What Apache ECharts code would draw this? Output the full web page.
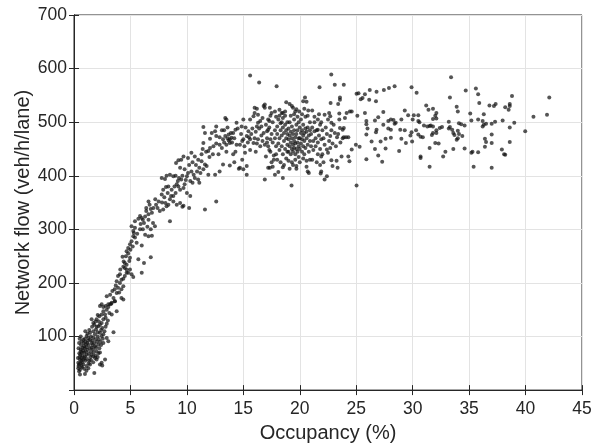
<!DOCTYPE html>
<html><head><meta charset="utf-8">
<script src="https://cdn.jsdelivr.net/npm/echarts@6/dist/echarts.min.js"></script>
<style>html,body{margin:0;padding:0;background:#fff}#c{width:604px;height:448px}</style>
</head><body><div id="c"></div>
<script>
// [occupancy %, network flow veh/h/lane]
const freeFlowPts = [[0.53,29],[0.97,30],[1.8,32],[0.38,41],[0.53,38],[0.68,45],[0.83,48],[1.12,45],[1.27,41],[1.42,48],[0.38,51],[0.53,57],[0.68,60],[0.83,57],[0.97,63],[1.12,66],[0.47,69],[0.59,76],[0.77,79],[0.89,82],[1.06,85],[1.18,88],[0.68,91],[0.83,94],[0.97,96],[1.27,97],[1.42,94],[1.56,88],[1.56,79],[1.71,76],[1.86,82],[2.0,73],[2.16,69],[1.71,63],[1.86,60],[2.0,57],[2.3,48],[2.45,51],[2.75,57],[2.5,46],[1.12,101],[1.42,107],[1.71,110],[1.95,113],[2.16,119],[2.3,122],[2.45,125],[2.6,132],[2.0,132],[2.24,138],[2.45,141],[1.71,125],[1.56,132],[2.3,107],[2.45,101],[2.6,104],[2.9,97],[3.04,91],[3.5,108],[2.6,147],[2.9,150],[3.04,155],[3.2,160],[3.34,163],[3.63,166],[2.75,141],[3.13,144],[3.34,141],[3.78,147],[2.3,157],[2.45,160],[2.1,140],
[0.4,45],[0.45,48],[0.5,62],[0.55,66],[0.6,72],[0.62,84],[0.7,70],[0.72,52],[0.75,64],[0.8,74],[0.85,88],[0.9,70],[0.92,60],[0.95,78],[1.0,55],[1.0,90],[1.05,72],[1.1,80],[1.15,58],[1.2,75],[1.25,92],[1.3,68],[1.3,84],[1.35,55],[1.4,78],[1.45,62],[1.5,100],[1.5,72],[1.55,66],[1.6,92],[1.65,84],[1.7,98],[1.75,70],[1.8,88],[1.85,104],[1.9,95],[1.95,80],[2.05,90],[2.1,100],[2.15,85],[2.2,95],[2.25,78],[2.35,90],[2.4,112],[2.5,116],[2.55,96],[0.35,60],[0.4,78],[0.45,88],[0.5,96],[0.6,100],[0.65,55],[1.0,110],[1.2,105],[1.35,112],[1.6,118],[1.8,122],[1.9,128],[2.0,118],[2.1,108],[2.2,128],[0.55,50],[0.7,42],[0.9,40],[1.1,36],[0.45,35],[1.3,50],[1.5,56],[1.7,52],[1.9,64],[2.1,62],[2.3,70],[2.4,84],[2.6,88],[2.7,110],[2.8,118],[2.9,124],[3.0,130],[2.8,135]];

const risingPts = [[2.6,155],[2.8,157],[3.04,160],[3.3,161],[3.6,166],[2.9,175],[3.2,178],[3.5,172],[3.78,181],[3.6,188],[3.9,191],[4.2,172],[4.37,169],[4.2,188],[4.37,194],[3.78,203],[4.07,200],[4.2,206],[4.37,208],[4.5,213],[4.66,219],[4.66,225],[4.5,228],[4.96,225],[4.8,219],[4.07,216],[3.9,213],[5.1,216],[5.25,211],[4.66,234],[4.9,241],[4.96,247],[4.37,230],[4.5,237],[4.3,249],[6.0,219],[5.7,244],[6.2,237],[6.8,248],[4.66,259],[4.8,265],[4.96,272],[5.1,278],[5.25,287],[5.3,293],[5.55,275],[6.0,270],[5.1,306],[5.4,303],[5.25,297],[5.85,300],[6.1,300],[6.3,290],[6.6,287],[6.9,288],[5.4,315],[5.7,320],[5.85,325],[6.1,318],[6.6,318],[7.0,312],[7.17,306],[8.5,315],
[3.4,185],[3.7,195],[4.0,182],[4.1,225],[4.4,240],[4.6,250],[4.8,255],[5.0,262],[5.2,268],[5.4,285],[5.6,292],[5.9,310],[6.2,312],[6.5,305],[6.8,300],[6.4,340],[6.8,338],[7.4,340],[7.8,350],[8.0,360],[8.3,368],[8.6,362],[8.9,380],[9.2,390],[9.6,400],[9.9,392]];

const transitionPts = [[6.0,321],[6.3,324],[6.6,328],[6.9,331],[6.4,334],[7.03,340],[7.27,346],[7.5,352],[7.2,356],[6.6,352],[6.7,346],[7.6,334],[7.9,337],[8.2,343],[8.1,349],[8.36,346],[8.5,356],[8.8,362],[9.0,368],[7.77,365],[7.9,374],[8.15,379],[8.36,380],[8.65,374],[7.77,396],[8.06,394],[8.2,400],[8.5,402],[8.8,399],[9.0,400],[9.1,384],[9.25,380],[9.4,374],[9.7,377],[9.8,384],[9.5,393],[9.3,396],[8.8,352],[9.1,346],[9.4,349],[9.6,342],[9.7,344],[10.2,340],[10.0,368],[10.3,362],[9.04,424],[9.25,429],[9.5,430],[9.7,436],[9.4,415],[9.8,412],[10.0,399],[10.1,405],[10.4,408],[10.6,402],[10.7,396],[10.9,408],[11.2,405],[11.0,393],[11.1,387],[10.3,390],[10.5,387],[10.1,433],[10.4,443],[10.7,436],[11.0,430],[11.3,440],[11.3,427],[11.6,421],[11.46,412],[11.75,418],[11.9,446],[12.05,452],[12.35,455],[11.46,461],[11.6,480],[12.05,469],[12.2,480],[12.5,483],[12.6,474],[12.9,472],[13.2,468],[13.4,474],[13.7,477],[13.8,468],[13.95,471],[13.7,466],[13.8,461],[13.5,458],[13.1,452],[12.8,440],[13.2,421],[12.9,408],[12.5,402],[11.9,402],[12.6,352],[11.6,337],[13.8,419],[14.1,440],[14.6,413],[14.7,415],[15.15,443],[15.3,418],[14.7,458],[15.0,468],[15.3,474],[15.6,468],[15.45,483],[14.4,499],[14.3,486],[14.1,480],[13.4,508],[13.5,505],[12.6,492],[11.46,491],[14.85,492],[15.0,505],[15.6,505],[15.9,511],[16.0,517],[16.0,527],[16.3,514],[16.2,492],[16.3,499],[16.5,502],[16.6,492],[16.8,480],[17.1,483],[17.2,486],[15.9,461],[16.3,468],[16.5,455],[16.9,458],[17.0,436],[17.2,415],[15.3,402],[16.8,530],[16.7,508],[17.3,502],[17.4,468],
[10.2,420],[10.5,425],[10.8,420],[11.1,415],[11.4,450],[11.7,445],[12.0,435],[12.3,440],[12.6,460],[12.9,458],[13.3,485],[13.6,490],
[13.1,485],[13.3,462],[13.6,470],[13.9,480],[14.0,462],[14.2,470],[14.4,458],[14.5,488],[14.8,478],[14.9,465],[15.1,455],[15.2,490],[15.4,462],[15.5,472],[15.7,478],[15.8,488],[16.0,470],[16.1,482],[16.2,460],[16.4,488],[16.6,475],[16.7,465],[14.3,445],[14.9,430],[15.6,448],[16.1,445],[15.0,412],[14.2,425],[13.5,445],[15.6,587],[16.2,525]];

const peakPts = [[22.79,589],[23.1,570],[23.9,570],[17.95,567],[21.75,565],[23.56,546],[23.56,542],[22.73,536],[23.4,534],[16.9,533],[16.9,527],[16.4,574],[18.8,537],[19.1,534],[19.3,530],[19.4,527],[19.7,524],[19.95,520],[20.46,546],[20.3,539],[20.6,538],[20.75,522],[21.1,522],[19.6,520],[17.8,520],[18.2,523],[18.4,517],[18.5,517],[18.7,520],[17.35,527],[17.5,517],[21.7,515],[22.2,514],[22.6,517],[22.7,511],[23.5,516],[24.15,517],[24.0,508],[24.6,520],[24.44,520],[19.27,382],[22.4,399],[22.2,393],[21.85,404],[20.8,405],[20.6,417],[18.5,396],[17.8,402],[18.1,407],[16.9,393],[17.35,415],[17.6,417],[18.5,416],[19.1,413],[19.7,413],[20.7,408],[21.9,408],[23.35,415],[24.4,427],[24.3,436],[23.26,428],[22.8,429],[23.7,436],[24.97,458],[24.3,472],[24.1,472],[23.9,472],[24.6,449],[22.7,452],[22.4,449],[22.5,443],[22.0,440],[21.9,436],[22.7,474],[23.3,472],[22.5,505],[22.8,499],[23.56,489],[23.8,486],[23.9,489],[22.0,485],[21.6,486],[21.3,483],[21.8,495],
[17.1,470],[17.2,455],[17.3,490],[17.4,445],[17.5,478],[17.6,462],[17.6,500],[17.7,438],[17.8,485],[17.8,470],[17.9,455],[17.9,510],[17.2,505],[17.4,512],[17.0,495],[17.7,430],[17.5,425],[17.3,448],[17.9,440],[17.1,462],
[18.0,478],[18.0,492],[18.1,460],[18.1,505],[18.2,448],[18.2,470],[18.3,485],[18.3,498],[18.4,455],[18.4,475],[18.5,440],[18.5,490],[18.5,508],[18.6,465],[18.6,480],[18.7,450],[18.7,495],[18.8,470],[18.8,485],[18.8,432],[18.9,458],[18.9,478],[18.9,500],[18.0,430],[18.3,425],[18.6,420],[18.2,512],[18.4,500],[18.7,512],[18.9,445],
[19.0,445],[19.0,468],[19.0,488],[19.1,455],[19.1,475],[19.1,500],[19.2,440],[19.2,462],[19.2,482],[19.3,450],[19.3,470],[19.3,492],[19.4,445],[19.4,458],[19.4,478],[19.5,452],[19.5,465],[19.5,485],[19.5,505],[19.6,440],[19.6,460],[19.6,472],[19.7,450],[19.7,478],[19.7,495],[19.8,445],[19.8,462],[19.8,485],[19.9,455],[19.9,470],[19.9,500],[19.0,428],[19.3,425],[19.6,430],[19.9,435],[19.2,512],[19.5,515],[19.8,510],[19.4,420],[19.7,418],
[20.0,450],[20.0,470],[20.0,490],[20.1,460],[20.1,480],[20.1,505],[20.2,445],[20.2,468],[20.2,485],[20.3,455],[20.3,475],[20.3,495],[20.4,465],[20.4,480],[20.4,440],[20.5,452],[20.5,488],[20.5,510],[20.6,470],[20.6,482],[20.7,458],[20.7,490],[20.8,445],[20.8,475],[20.9,465],[20.9,485],[20.9,500],[20.0,425],[20.3,432],[20.6,428],[20.9,430],[20.2,515],[20.7,512],[20.4,525],
[21.0,455],[21.0,478],[21.1,490],[21.2,465],[21.2,448],[21.3,500],[21.4,470],[21.4,455],[21.5,485],[21.6,462],[21.6,440],[21.7,475],[21.8,450],[21.9,468],[21.9,500],[21.1,430],[21.5,425],[21.8,420],[21.3,510],[21.6,505],
[22.1,470],[22.2,458],[22.3,490],[22.4,478],[22.6,465],[22.8,485],[22.9,460],[23.0,495],[23.1,480],[23.2,455],[23.4,478],[23.6,462],[23.8,470],[22.1,425],[22.9,418],[23.5,505]];

const congestedPts = [[25.03,553],[25.2,554],[25.4,543],[25.56,545],[25.77,552],[26.2,560],[26.8,557],[26.15,542],[26.75,539],[27.45,560],[27.9,564],[28.4,567],[29.3,522],[27.4,519],[25.1,512],[25.77,517],[25.9,502],[26.66,503],[26.95,509],[27.4,495],[27.84,502],[28.07,505],[28.3,504],[28.5,499],[28.4,497],[28.9,486],[29.0,505],[25.9,496],[26.0,488],[26.8,486],[26.75,481],[27.84,488],[28.07,486],[26.36,464],[27.16,464],[27.6,469],[28.07,471],[29.0,469],[25.9,477],[26.66,450],[27.6,451],[26.95,438],[27.3,426],[28.8,446],[25.9,431],[25.03,382],[25.3,454],
[33.4,584],[29.9,565],[30.35,555],[35.6,563],[34.7,559],[35.8,552],[33.3,546],[42.1,546],[38.8,549],[31.2,531],[35.9,536],[36.8,531],[37.35,534],[37.2,530],[38.6,534],[38.6,530],[38.2,528],[38.5,523],[31.8,525],[31.4,523],[33.9,529],[34.0,520],[41.9,514],[40.7,510],[35.1,516],[36.3,515],[32.1,517],[32.0,512],[29.6,513],[30.1,513],[30.5,513],[30.0,505],[30.5,502],[30.6,500],[31.8,506],[32.1,507],[33.2,501],[34.1,498],[34.3,496],[34.6,494],[35.2,503],[35.8,505],[36.2,502],[36.3,495],[36.2,492],[36.5,497],[37.0,497],[37.3,501],[37.97,503],[38.6,490],[39.0,499],[39.97,483],[29.3,485],[29.8,475],[29.4,461],[29.9,481],[29.95,464],[30.3,485],[30.5,477],[30.7,473],[30.9,472],[31.0,494],[31.3,492],[31.5,493],[31.6,494],[31.8,492],[32.1,485],[32.1,480],[31.8,480],[31.7,476],[32.4,489],[32.6,491],[33.2,488],[33.3,491],[33.5,486],[33.6,480],[33.7,476],[34.0,484],[34.1,478],[34.4,474],[33.9,467],[34.0,470],[31.5,452],[32.0,461],[32.3,460],[32.9,445],[32.7,436],[33.6,450],[34.6,451],[35.2,443],[35.3,445],[35.8,444],[36.4,469],[36.5,463],[36.4,454],[37.0,477],[37.0,461],[37.9,449],[38.1,440],[38.2,439],[38.6,463],[30.7,436],[30.7,433],[31.5,417],[35.4,417],[37.0,415]];

const xTicks = [0,5,10,15,20,25,30,35,40,45];
const yTicks = [0,100,200,300,400,500,600,700];

const allPts = freeFlowPts.concat(risingPts, transitionPts, peakPts, congestedPts);
const FONT = 'Liberation Sans, Arial, Helvetica, sans-serif';
const TXT = '#262626';

const chart = echarts.init(document.getElementById('c'), null, {renderer:'canvas'});
const baseX = {
  type:'value', min:xTicks[0], max:xTicks[xTicks.length-1], interval:5
};
const baseY = {
  type:'value', min:yTicks[0], max:yTicks[yTicks.length-1], interval:100
};
chart.setOption({
  animation:false,
  backgroundColor:'#fff',
  grid:{left:74,right:22,top:15,bottom:57,show:true,borderColor:TXT,borderWidth:1,backgroundColor:'transparent'},
  xAxis:[
    Object.assign({}, baseX, {
      position:'bottom',
      name:'Occupancy (%)', nameLocation:'middle', nameGap:31,
      nameTextStyle:{fontFamily:FONT,fontSize:20,color:TXT},
      axisLine:{show:true,lineStyle:{color:TXT,width:1}},
      axisTick:{show:true,inside:true,length:5,lineStyle:{color:TXT}},
      axisLabel:{fontFamily:FONT,fontSize:17.5,color:TXT,margin:10},
      splitLine:{show:true,lineStyle:{color:'#e3e3e3',width:1}}
    }),
    Object.assign({}, baseX, {
      position:'top',
      axisLine:{show:true,lineStyle:{color:TXT,width:1}},
      axisTick:{show:true,inside:true,length:5,lineStyle:{color:TXT}},
      axisLabel:{show:false}, splitLine:{show:false}
    })
  ],
  yAxis:[
    Object.assign({}, baseY, {
      position:'left',
      name:'Network flow (veh/h/lane)', nameLocation:'middle', nameGap:41,
      nameMoveOverlap:false,
      nameTextStyle:{fontFamily:FONT,fontSize:20,color:TXT},
      axisLine:{show:true,lineStyle:{color:TXT,width:1}},
      axisTick:{show:true,inside:true,length:5,lineStyle:{color:TXT}},
      axisLabel:{fontFamily:FONT,fontSize:17.5,color:TXT,margin:7,
        formatter:function(v){return v===0?'':String(v);}},
      splitLine:{show:true,lineStyle:{color:'#e3e3e3',width:1}}
    }),
    Object.assign({}, baseY, {
      position:'right',
      axisLine:{show:true,lineStyle:{color:TXT,width:1}},
      axisTick:{show:true,inside:true,length:5,lineStyle:{color:TXT}},
      axisLabel:{show:false}, splitLine:{show:false}
    })
  ],
  series:[{
    type:'scatter', xAxisIndex:0, yAxisIndex:0,
    data:allPts, symbol:'circle', symbolSize:4,
    itemStyle:{color:'rgba(20,20,20,0.9)'},
    silent:true
  }]
});
</script></body></html>
